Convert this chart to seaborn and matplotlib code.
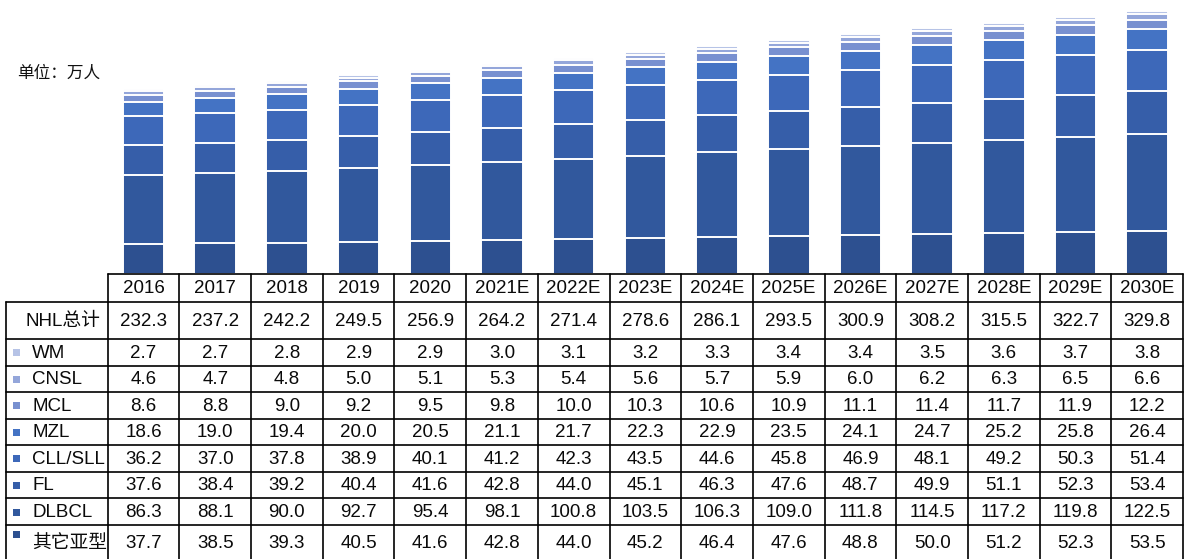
import numpy as np
import pandas as pd
import matplotlib
matplotlib.use("Agg")
import matplotlib.pyplot as plt
import seaborn as sns

sns.set_theme(style="white")
plt.rcParams["font.family"] = ["Liberation Sans", "Noto Sans CJK SC", "DejaVu Sans"]

# ---- data (万人) ----
years = ["2016", "2017", "2018", "2019", "2020", "2021E", "2022E", "2023E",
         "2024E", "2025E", "2026E", "2027E", "2028E", "2029E", "2030E"]
nhl_total = [232.3, 237.2, 242.2, 249.5, 256.9, 264.2, 271.4, 278.6,
             286.1, 293.5, 300.9, 308.2, 315.5, 322.7, 329.8]
wm = [2.7, 2.7, 2.8, 2.9, 2.9, 3.0, 3.1, 3.2, 3.3, 3.4, 3.4, 3.5, 3.6, 3.7, 3.8]
cnsl = [4.6, 4.7, 4.8, 5.0, 5.1, 5.3, 5.4, 5.6, 5.7, 5.9, 6.0, 6.2, 6.3, 6.5, 6.6]
mcl = [8.6, 8.8, 9.0, 9.2, 9.5, 9.8, 10.0, 10.3, 10.6, 10.9, 11.1, 11.4, 11.7, 11.9, 12.2]
mzl = [18.6, 19.0, 19.4, 20.0, 20.5, 21.1, 21.7, 22.3, 22.9, 23.5, 24.1, 24.7, 25.2, 25.8, 26.4]
cll_sll = [36.2, 37.0, 37.8, 38.9, 40.1, 41.2, 42.3, 43.5, 44.6, 45.8, 46.9, 48.1, 49.2, 50.3, 51.4]
fl = [37.6, 38.4, 39.2, 40.4, 41.6, 42.8, 44.0, 45.1, 46.3, 47.6, 48.7, 49.9, 51.1, 52.3, 53.4]
dlbcl = [86.3, 88.1, 90.0, 92.7, 95.4, 98.1, 100.8, 103.5, 106.3, 109.0, 111.8, 114.5, 117.2, 119.8, 122.5]
other = [37.7, 38.5, 39.3, 40.5, 41.6, 42.8, 44.0, 45.2, 46.4, 47.6, 48.8, 50.0, 51.2, 52.3, 53.5]

# table order (top to bottom) == stack order (top to bottom)
series_names = ["WM", "CNSL", "MCL", "MZL", "CLL/SLL", "FL", "DLBCL", "其它亚型"]
series_values = [wm, cnsl, mcl, mzl, cll_sll, fl, dlbcl, other]
series_colors = ["#b6c3e6", "#94a6da", "#7890d0", "#4473c4", "#3d68b9",
                 "#365ea9", "#31589d", "#2d5090"]

W, H = 1184, 559
fig = plt.figure(figsize=(W / 100, H / 100), dpi=100)

# ---- stacked bars ----
tbl_left, tbl_right = 107.7, 1183.0
tbl_top = 274.0
ax = fig.add_axes([tbl_left / W, 1 - tbl_top / H, (tbl_right - tbl_left) / W, tbl_top / H])

# cumulative layers, drawn tallest first so each smaller layer sits in front
stack_bottom_up = list(zip(series_names, series_values, series_colors))[::-1]
cum = np.zeros(len(years))
layers = []
for name, vals, col in stack_bottom_up:
    cum = cum + np.array(vals)
    layers.append((name, cum.copy(), col))
for name, cvals, col in layers[::-1]:
    df = pd.DataFrame({"year": years, "value": cvals})
    sns.barplot(data=df, x="year", y="value", order=years, color=col,
                width=0.58, edgecolor="white", linewidth=1.4, ax=ax,
                saturation=1)

ax.set_xlim(-0.5, len(years) - 0.5)
ax.set_ylim(0, 344)
ax.axis("off")

# ---- overlay for table and unit label (pixel coordinates) ----
ov = fig.add_axes([0, 0, 1, 1])
ov.set_xlim(0, W)
ov.set_ylim(H, 0)
ov.axis("off")
ov.patch.set_alpha(0)

ov.text(17, 73, "单位：万人", fontsize=12, family=["Noto Sans CJK SC"],
        va="center", ha="left", color="#111111")

col_w = (tbl_right - tbl_left) / len(years)
label_left = 6.0
row_edges = [274.0, 301.7, 339.0, 365.5, 392.0, 418.5, 445.0, 471.7, 498.0, 525.0, 562.0]
lw = 1.2
fs = 13.5
txt_col = "#0a0a0a"

# horizontal lines
ov.plot([tbl_left, tbl_right], [row_edges[0]] * 2, color="black", lw=lw)
for y in row_edges[1:]:
    ov.plot([label_left, tbl_right], [y, y], color="black", lw=lw)
# vertical lines
ov.plot([label_left, label_left], [row_edges[1], H + 5], color="black", lw=lw)
for i in range(len(years) + 1):
    x = tbl_left + i * col_w
    ov.plot([x, x], [row_edges[0], H + 5], color="black", lw=lw)

# header (years)
for i, yr in enumerate(years):
    cx = tbl_left + (i + 0.5) * col_w
    ov.text(cx, (row_edges[0] + row_edges[1]) / 2 + 1, yr, fontsize=fs,
            ha="center", va="center", color=txt_col)

# total row
cy = (row_edges[1] + row_edges[2]) / 2 + 1
ov.text(63, cy, "NHL总计", fontsize=fs, ha="center", va="center", color=txt_col)
for i, v in enumerate(nhl_total):
    cx = tbl_left + (i + 0.5) * col_w
    ov.text(cx, cy, f"{v:.1f}", fontsize=fs, ha="center", va="center", color=txt_col)

# subtype rows
for r, (name, vals, col) in enumerate(zip(series_names, series_values, series_colors)):
    y0, y1 = row_edges[r + 2], min(row_edges[r + 3], H)
    cy = (y0 + y1) / 2 + 1
    if name == "其它亚型":
        cy = (y0 + y1) / 2 + 2
        sq_y = y0 + 6
    else:
        sq_y = cy - 4
    ov.add_patch(plt.Rectangle((13, sq_y), 7, 7, color=col, lw=0))
    ov.text(32, cy, name, fontsize=fs, ha="left", va="center", color=txt_col)
    for i, v in enumerate(vals):
        cx = tbl_left + (i + 0.5) * col_w
        ov.text(cx, cy, f"{v:.1f}", fontsize=fs, ha="center", va="center", color=txt_col)

fig.savefig("out.png", dpi=100, facecolor="white")
